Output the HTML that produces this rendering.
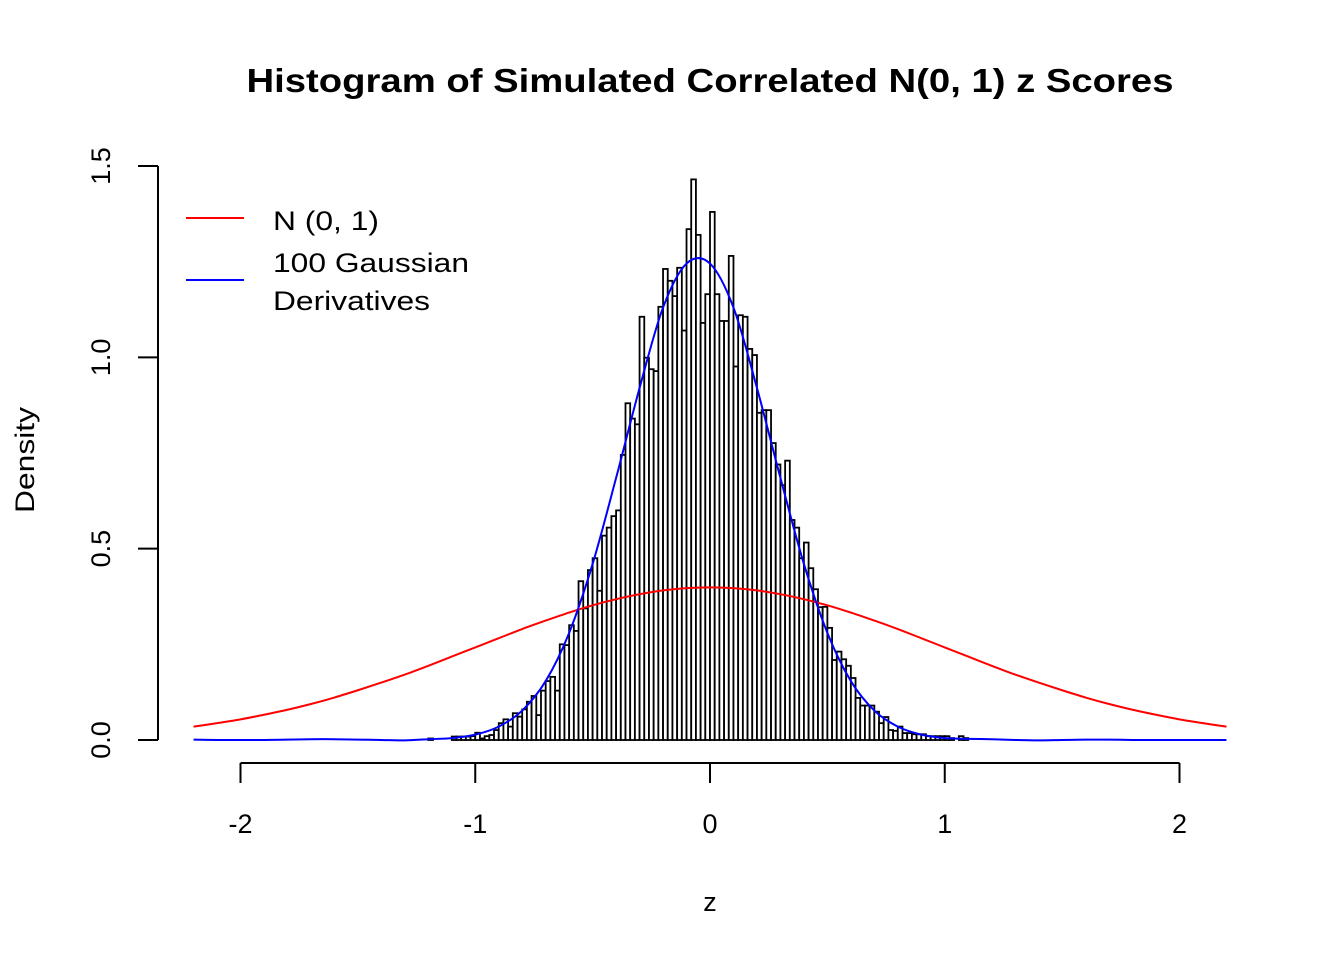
<!DOCTYPE html>
<html><head><meta charset="utf-8"><style>
html,body{margin:0;padding:0;background:#fff;}
svg text{font-family:"Liberation Sans",Arial,sans-serif;fill:#000;}
</style></head><body>
<svg id="chart" width="1344" height="960" viewBox="0 0 1344 960" xmlns="http://www.w3.org/2000/svg">
<rect width="1344" height="960" fill="#fff"/>
<text x="710" y="92" font-size="33" font-weight="bold" text-anchor="middle" textLength="927" lengthAdjust="spacingAndGlyphs">Histogram of Simulated Correlated N(0, 1) z Scores</text>
<text x="710" y="911" font-size="27" text-anchor="middle">z</text>
<text transform="translate(34,460) rotate(-90)" font-size="27" text-anchor="middle" textLength="106" lengthAdjust="spacingAndGlyphs">Density</text>
<g id="bars"></g>
<path id="red" fill="none" stroke="#ff0000" stroke-width="2"/>
<path id="blue" fill="none" stroke="#0000ff" stroke-width="2"/>
<g id="axes"></g>
<g>
<line x1="186" y1="218" x2="244" y2="218" stroke="#ff0000" stroke-width="2"/>
<text x="273" y="230" font-size="27" textLength="106" lengthAdjust="spacingAndGlyphs">N (0, 1)</text>
<line x1="186" y1="280" x2="244" y2="280" stroke="#0000ff" stroke-width="2"/>
<text x="273" y="272" font-size="27" textLength="196" lengthAdjust="spacingAndGlyphs">100 Gaussian</text>
<text x="273" y="310" font-size="27" textLength="157" lengthAdjust="spacingAndGlyphs">Derivatives</text>
</g>
</svg>
<script>
const binStart = -1.22;
const binWidth = 0.02;
const binDensity = [0,0.004,0,0,0,0,0.009,0.009,0.009,0.009,0.01,0.019,0.004,0.01,0.013,0.026,0.044,0.054,0.035,0.07,0.061,0.08,0.1,0.115,0.065,0.129,0.154,0.165,0.129,0.25,0.248,0.3,0.285,0.415,0.344,0.444,0.475,0.39,0.534,0.555,0.585,0.6,
0.745,0.88,0.84,0.825,1.106,0.999,0.969,0.964,1.132,1.231,1.2,1.16,1.234,1.07,1.335,1.465,1.32,1.09,1.165,1.38,1.165,1.095,1.095,1.265,0.976,1.11,1.106,1.022,1.006,0.855,0.862,0.862,0.776,0.72,0.666,0.73,
0.575,0.555,0.475,0.516,0.449,0.394,0.347,0.348,0.293,0.209,0.231,0.211,0.194,0.162,0.11,0.09,0.09,0.09,0.074,0.044,0.06,0.026,0.024,0.035,0.018,0.018,0.015,0.015,0.015,0.01,0.01,0.01,0.01,0.01,0.005,0,0.01,0.005];
const curveX = [-2.2,-2.1,-2.0,-1.9,-1.8,-1.7,-1.6,-1.5,-1.4,-1.3,-1.2,-1.1,-1.0,-0.9,-0.8,-0.7,-0.6,-0.5,-0.4,-0.3,-0.2,-0.1,0,0.1,0.2,0.3,0.4,0.5,0.6,0.7,0.8,0.9,1.0,1.1,1.2,1.3,1.4,1.5,1.6,1.7,1.8,1.9,2.0,2.1,2.2];
const normalY = [0.035,0.044,0.054,0.066,0.079,0.094,0.111,0.130,0.150,0.171,0.194,0.218,0.242,0.266,0.290,0.312,0.333,0.352,0.368,0.381,0.391,0.397,0.399,0.397,0.391,0.381,0.368,0.352,0.333,0.312,0.290,0.266,0.242,0.218,0.194,0.171,0.150,0.130,0.111,0.094,0.079,0.066,0.054,0.044,0.035];
const gdY = [0.001,0,0,0,0.001,0.002,0.002,0.001,0,-0.001,0.002,0.005,0.014,0.035,0.077,0.154,0.28,0.46,0.685,0.92,1.13,1.245,1.245,1.13,0.92,0.685,0.46,0.28,0.154,0.077,0.035,0.014,0.005,0.003,0.002,0,-0.001,0,0.001,0.001,0,0,0,0,0];
const xTicks = [-2,-1,0,1,2];
const xTickLabels = ["-2","-1","0","1","2"];
const yTicks = [0,0.5,1,1.5];
const yTickLabels = ["0.0","0.5","1.0","1.5"];

const X = z => 710 + z*234.75;
const Y = d => 740 - d*382.67;
const NS = "http://www.w3.org/2000/svg";
const bars = document.getElementById('bars');
binDensity.forEach((d,i)=>{
  if(d<=0) return;
  const z0 = binStart + i*binWidth;
  const r = document.createElementNS(NS,'rect');
  r.setAttribute('x', X(z0)); r.setAttribute('width', X(z0+binWidth)-X(z0));
  r.setAttribute('y', Y(d)); r.setAttribute('height', Y(0)-Y(d));
  r.setAttribute('fill','#fff'); r.setAttribute('stroke','#000'); r.setAttribute('stroke-width','1.8');
  
  
  bars.appendChild(r);
});
function smooth(xs, ys){
  const p = xs.map((x,i)=>[X(x),Y(ys[i])]);
  let s = `M${p[0][0]},${p[0][1]}`;
  for(let i=0;i<p.length-1;i++){
    const p0=p[Math.max(0,i-1)],p1=p[i],p2=p[i+1],p3=p[Math.min(p.length-1,i+2)];
    const c1=[p1[0]+(p2[0]-p0[0])/6,p1[1]+(p2[1]-p0[1])/6];
    const c2=[p2[0]-(p3[0]-p1[0])/6,p2[1]-(p3[1]-p1[1])/6];
    s+=`C${c1[0]},${c1[1]} ${c2[0]},${c2[1]} ${p2[0]},${p2[1]}`;
  }
  return s;
}
document.getElementById('red').setAttribute('d', smooth(curveX, normalY));
document.getElementById('blue').setAttribute('d', smooth(curveX, gdY));
const axes = document.getElementById('axes');
function add(tag, attrs, name, text){
  const e=document.createElementNS(NS,tag);
  for(const k in attrs) e.setAttribute(k,attrs[k]);
  
  
  if(text!==undefined) e.textContent=text;
  axes.appendChild(e); return e;
}
add('line',{x1:X(xTicks[0]),x2:X(xTicks[xTicks.length-1]),y1:763,y2:763,stroke:'#000','stroke-width':2},'x-axis-line');
xTicks.forEach((t,i)=>{
  add('line',{x1:X(t),x2:X(t),y1:763,y2:783,stroke:'#000','stroke-width':2},'x-tick');
  add('text',{x:X(t),y:833,'font-size':27,'text-anchor':'middle'},'x-tick-label',xTickLabels[i]);
});
add('line',{x1:158,x2:158,y1:Y(yTicks[0]),y2:Y(yTicks[yTicks.length-1]),stroke:'#000','stroke-width':2},'y-axis-line');
yTicks.forEach((t,i)=>{
  add('line',{x1:138,x2:158,y1:Y(t),y2:Y(t),stroke:'#000','stroke-width':2},'y-tick');
  add('text',{transform:`translate(110,${Y(t)}) rotate(-90)`,'font-size':27,'text-anchor':'middle'},'y-tick-label',yTickLabels[i]);
});
</script>
</body></html>
